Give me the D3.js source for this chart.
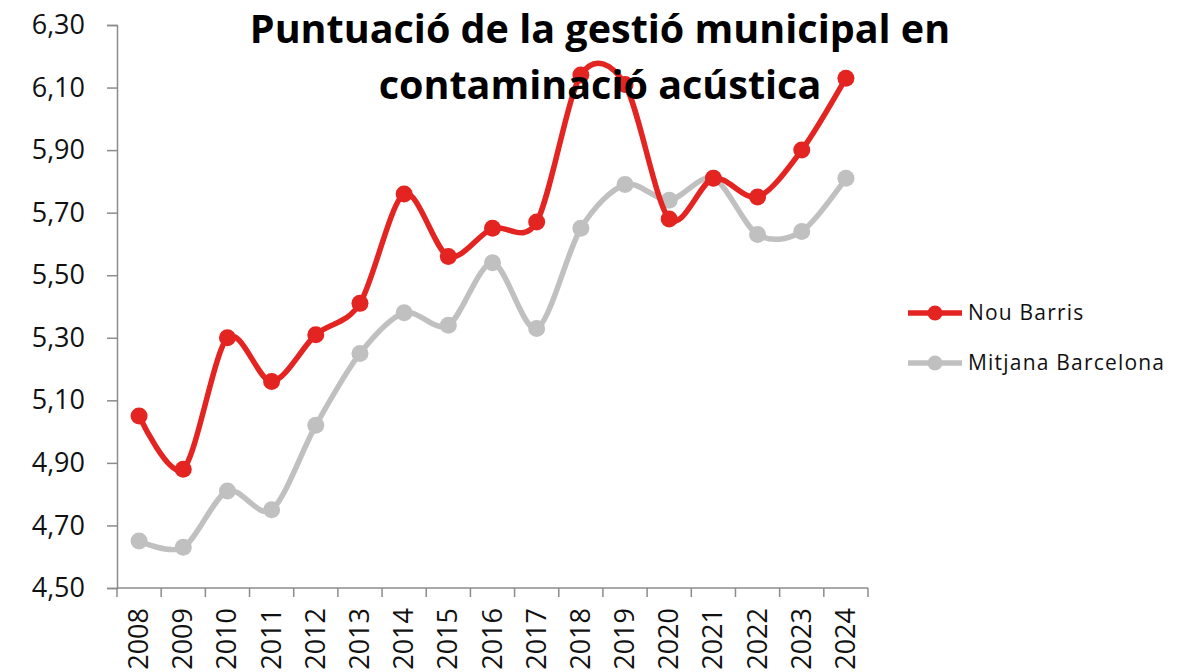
<!DOCTYPE html>
<html>
<head>
<meta charset="utf-8">
<script src="https://cdn.jsdelivr.net/npm/d3@7"></script>
<style>
  html, body { margin: 0; padding: 0; background: #ffffff; }
</style>
</head>
<body>
<div id="canvas"></div>
<script>
const years = ['2008', '2009', '2010', '2011', '2012', '2013', '2014', '2015', '2016',
    '2017', '2018', '2019', '2020', '2021', '2022', '2023', '2024'];
const nouBarris = [5.05, 4.88, 5.30, 5.16, 5.31, 5.41, 5.76, 5.56, 5.65,
    5.67, 6.14, 6.11, 5.68, 5.81, 5.75, 5.90, 6.13];
const mitjanaBcn = [4.65, 4.63, 4.81, 4.75, 5.02, 5.25, 5.38, 5.34, 5.54,
    5.33, 5.65, 5.79, 5.74, 5.81, 5.63, 5.64, 5.81];
const yTicks = [4.5, 4.7, 4.9, 5.1, 5.3, 5.5, 5.7, 5.9, 6.1, 6.3];
const seriesNames = ['Nou Barris', 'Mitjana Barcelona'];
const titleLines = ['Puntuació de la gestió municipal en', 'contaminació acústica'];

const w = 1189,
    h = 672,
    plotLeft = 117,
    plotRight = 868,
    plotTop = 25,
    plotBottom = 588,
    red = '#e42421',
    grey = '#c0c0c0',
    axisCol = '#8c8c8c',
    font = '"Open Sans", "Noto Sans", sans-serif';

const svg = d3.select('#canvas').append('svg')
    .attr('width', w)
    .attr('height', h);

const x = d3.scaleBand().domain(years).range([plotLeft, plotRight]).padding(0);
const y = d3.scaleLinear().domain([4.5, 6.3]).range([plotBottom, plotTop]);
const cx = d => x(d) + x.bandwidth() / 2;

const fmt = d3.formatLocale({ decimal: ',', thousands: '.', grouping: [3], currency: ['', '€'] }).format('.2f');

// y axis
const yAxis = svg.append('g')
    .attr('transform', 'translate(' + plotLeft + ',0)')
    .call(d3.axisLeft(y).tickValues(yTicks).tickFormat(fmt).tickSize(10).tickPadding(22));
yAxis.select('.domain').attr('stroke', axisCol).attr('stroke-width', 1.5);
yAxis.selectAll('.tick line').attr('stroke', axisCol).attr('stroke-width', 1.5);
yAxis.selectAll('.tick text')
    .attr('font-family', font)
    .attr('font-size', '27px')
    .attr('fill', '#111');

// x axis: ticks between categories, labels rotated
const xAxis = svg.append('g')
    .attr('transform', 'translate(0,' + plotBottom + ')');
xAxis.append('line')
    .attr('x1', plotLeft).attr('x2', plotRight)
    .attr('stroke', axisCol).attr('stroke-width', 1.5);
xAxis.selectAll('line.tk')
    .data(years.map(d => x(d)).concat([plotRight]))
    .join('line')
    .attr('class', 'tk')
    .attr('x1', d => d).attr('x2', d => d)
    .attr('y1', 0).attr('y2', 9)
    .attr('stroke', axisCol).attr('stroke-width', 1.5);
xAxis.selectAll('text')
    .data(years)
    .join('text')
    .attr('transform', d => 'translate(' + (cx(d) + 9) + ',20)rotate(-90)')
    .attr('text-anchor', 'end')
    .attr('font-family', font)
    .attr('font-size', '27px')
    .attr('fill', '#111')
    .text(d => d);

// series
const line = d3.line()
    .x((d, i) => cx(years[i]))
    .y(d => y(d))
    .curve(d3.curveCardinal.tension(0.1));

function drawSeries(vals, col) {
    svg.append('path')
        .datum(vals)
        .attr('d', line)
        .attr('fill', 'none')
        .attr('stroke', col)
        .attr('stroke-width', 5.5)
        .attr('stroke-linejoin', 'round');
    svg.append('g').selectAll('circle')
        .data(vals)
        .join('circle')
        .attr('cx', (d, i) => cx(years[i]))
        .attr('cy', d => y(d))
        .attr('r', 8.5)
        .attr('fill', col);
}
drawSeries(mitjanaBcn, grey);
drawSeries(nouBarris, red);

// title
svg.append('g').selectAll('text')
    .data(titleLines)
    .join('text')
    .attr('x', 600)
    .attr('y', (d, i) => 43 + i * 56)
    .attr('text-anchor', 'middle')
    .attr('font-family', font)
    .attr('font-weight', 700)
    .attr('font-size', '39.5px')
    .attr('fill', '#000')
    .text(d => d);

// legend
const leg = svg.append('g').selectAll('g')
    .data(seriesNames)
    .join('g')
    .attr('transform', (d, i) => 'translate(908,' + (313 + i * 50) + ')');
leg.append('line')
    .attr('x1', 0).attr('x2', 54)
    .attr('stroke', (d, i) => i ? grey : red)
    .attr('stroke-width', 5.5);
leg.append('circle')
    .attr('cx', 27).attr('r', 7.5)
    .attr('fill', (d, i) => i ? grey : red);
leg.append('text')
    .attr('x', 60)
    .attr('dy', '0.35em')
    .attr('font-family', font)
    .attr('font-size', '21px')
    .attr('letter-spacing', '1.2px')
    .attr('fill', '#111')
    .text(d => d);
</script>
</body>
</html>
